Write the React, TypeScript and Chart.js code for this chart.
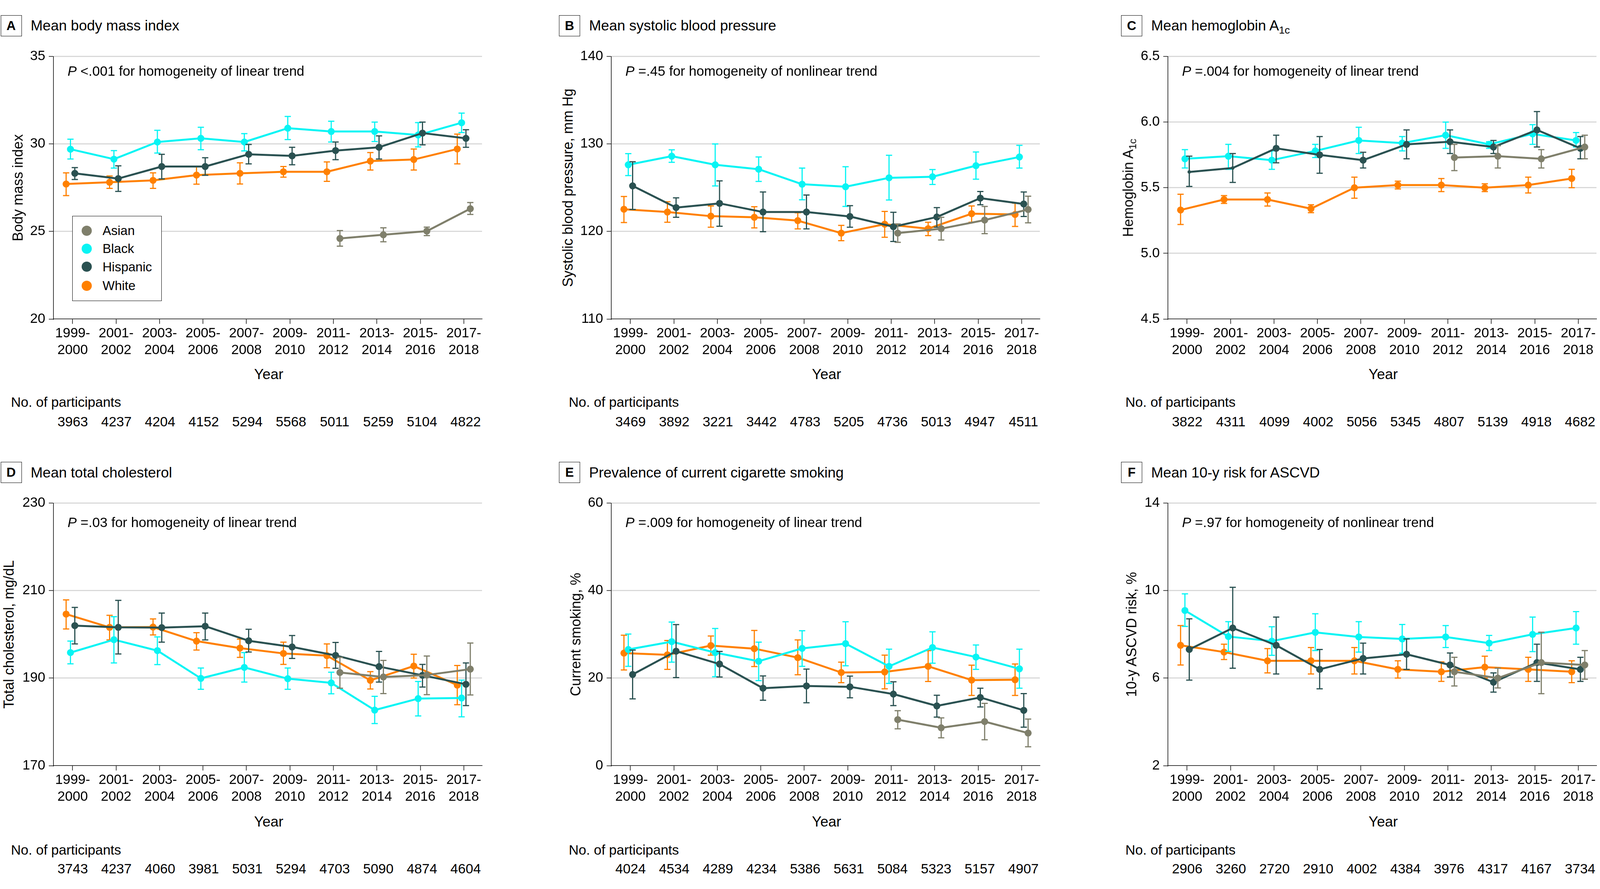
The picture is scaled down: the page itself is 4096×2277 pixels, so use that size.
import React, { useEffect, useRef } from "react";
import { Chart, registerables } from "chart.js";

Chart.register(...registerables);

const FONT = "'Liberation Sans', Arial, Helvetica, sans-serif";

// ---------- shared categories ----------
const yearLabels = [
  ["1999-", "2000"], ["2001-", "2002"], ["2003-", "2004"], ["2005-", "2006"], ["2007-", "2008"],
  ["2009-", "2010"], ["2011-", "2012"], ["2013-", "2014"], ["2015-", "2016"], ["2017-", "2018"],
];
const legendRaces = ["Asian", "Black", "Hispanic", "White"];
const _ = null;

// ---------- A: body mass index ----------
const bmiTicks = [20, 25, 30, 35];
const bmiAsian = [_, _, _, _, _, _, 24.6, 24.81, 25.02, 26.3];
const bmiAsianCI = [_, _, _, _, _, _, [24.16, 25.05], [24.41, 25.21], [24.76, 25.25], [25.97, 26.65]];
const bmiBlack = [29.7, 29.13, 30.11, 30.32, 30.11, 30.9, 30.71, 30.71, 30.51, 31.21];
const bmiBlackCI = [[29.14, 30.27], [28.62, 29.62], [29.48, 30.78], [29.67, 30.95], [29.6, 30.59], [30.25, 31.57], [30.11, 31.3], [30.14, 31.25], [29.83, 31.22], [30.65, 31.76]];
const bmiHispanic = [28.32, 28.02, 28.71, 28.71, 29.41, 29.32, 29.62, 29.81, 30.62, 30.32];
const bmiHispanicCI = [[27.97, 28.65], [27.29, 28.75], [28.0, 29.41], [28.21, 29.21], [28.86, 29.97], [28.81, 29.81], [29.1, 30.11], [29.14, 30.46], [29.95, 31.25], [29.81, 30.81]];
const bmiWhite = [27.71, 27.81, 27.92, 28.22, 28.32, 28.41, 28.41, 29.02, 29.11, 29.71];
const bmiWhiteCI = [[27.05, 28.35], [27.46, 28.17], [27.46, 28.35], [27.7, 28.7], [27.71, 28.92], [28.1, 28.71], [27.86, 28.97], [28.51, 29.51], [28.51, 29.71], [28.86, 30.56]];
const bmiN = [3963, 4237, 4204, 4152, 5294, 5568, 5011, 5259, 5104, 4822];

// ---------- B: systolic blood pressure ----------
const sbpTicks = [110, 120, 130, 140];
const sbpAsian = [_, _, _, _, _, _, 119.81, 120.32, 121.3, 122.51];
const sbpAsianCI = [_, _, _, _, _, _, [118.76, 120.86], [119.02, 121.62], [119.75, 122.86], [120.98, 124.03]];
const sbpBlack = [127.62, 128.6, 127.62, 127.11, 125.4, 125.11, 126.13, 126.25, 127.52, 128.51];
const sbpBlackCI = [[126.38, 128.89], [127.9, 129.33], [125.2, 130.0], [125.71, 128.51], [123.62, 127.24], [122.86, 127.4], [123.59, 128.7], [125.37, 127.08], [125.97, 129.08], [127.24, 129.84]];
const sbpHispanic = [125.21, 122.73, 123.21, 122.22, 122.22, 121.71, 120.54, 121.65, 123.81, 123.14];
const sbpHispanicCI = [[122.51, 127.97], [121.62, 123.84], [120.6, 125.78], [119.97, 124.51], [120.29, 124.16], [120.48, 122.95], [118.86, 122.19], [120.48, 122.73], [123.05, 124.57], [121.71, 124.51]];
const sbpWhite = [122.54, 122.22, 121.75, 121.62, 121.24, 119.81, 120.83, 120.32, 122.03, 121.94];
const sbpWhiteCI = [[121.02, 124.0], [121.05, 123.4], [120.48, 122.92], [120.41, 122.83], [120.29, 122.13], [118.95, 120.7], [119.33, 122.29], [119.52, 121.05], [121.05, 122.92], [120.57, 123.24]];
const sbpN = [3469, 3892, 3221, 3442, 4783, 5205, 4736, 5013, 4947, 4511];

// ---------- C: hemoglobin A1c ----------
const hbaTicks = [4.5, 5.0, 5.5, 6.0, 6.5];
const hbaAsian = [_, _, _, _, _, _, 5.73, 5.74, 5.72, 5.81];
const hbaAsianCI = [_, _, _, _, _, _, [5.63, 5.83], [5.65, 5.82], [5.65, 5.79], [5.72, 5.9]];
const hbaBlack = [5.72, 5.74, 5.71, 5.78, 5.86, 5.84, 5.9, 5.83, 5.91, 5.86];
const hbaBlackCI = [[5.65, 5.79], [5.64, 5.83], [5.64, 5.78], [5.73, 5.83], [5.76, 5.96], [5.78, 5.89], [5.8, 6.0], [5.8, 5.85], [5.83, 5.98], [5.81, 5.92]];
const hbaHispanic = [5.62, 5.65, 5.8, 5.75, 5.71, 5.83, 5.85, 5.81, 5.94, 5.8];
const hbaHispanicCI = [[5.51, 5.74], [5.54, 5.76], [5.69, 5.9], [5.61, 5.89], [5.65, 5.77], [5.72, 5.94], [5.76, 5.94], [5.76, 5.86], [5.81, 6.08], [5.72, 5.89]];
const hbaWhite = [5.33, 5.41, 5.41, 5.34, 5.5, 5.52, 5.52, 5.5, 5.52, 5.57];
const hbaWhiteCI = [[5.22, 5.45], [5.38, 5.44], [5.36, 5.46], [5.31, 5.37], [5.42, 5.58], [5.49, 5.55], [5.47, 5.57], [5.47, 5.53], [5.46, 5.58], [5.5, 5.64]];
const hbaN = [3822, 4311, 4099, 4002, 5056, 5345, 4807, 5139, 4918, 4682];

// ---------- D: total cholesterol ----------
const tcTicks = [170, 190, 210, 230];
const tcAsian = [_, _, _, _, _, _, 191.28, 190.26, 190.71, 192.05];
const tcAsianCI = [_, _, _, _, _, _, [187.69, 194.74], [186.47, 194.04], [186.22, 195.06], [186.15, 198.01]];
const tcBlack = [195.83, 198.78, 196.28, 189.94, 192.44, 189.87, 188.91, 182.69, 185.32, 185.45];
const tcBlackCI = [[193.27, 198.46], [193.46, 204.04], [193.08, 199.42], [187.44, 192.31], [189.1, 195.83], [187.44, 192.31], [186.41, 191.35], [179.62, 185.83], [181.35, 189.23], [181.15, 189.55]];
const tcHispanic = [201.99, 201.6, 201.54, 201.86, 198.53, 197.12, 195.19, 192.63, 190.64, 188.59];
const tcHispanicCI = [[197.82, 206.15], [195.51, 207.76], [198.21, 204.87], [198.72, 204.87], [195.96, 201.15], [194.49, 199.74], [192.24, 198.14], [189.1, 196.09], [187.95, 193.14], [183.72, 193.46]];
const tcWhite = [204.62, 201.6, 201.67, 198.46, 196.86, 195.64, 195.13, 189.49, 192.76, 188.4];
const tcWhiteCI = [[201.22, 207.88], [198.72, 204.36], [199.87, 203.53], [196.41, 200.38], [194.74, 198.91], [193.14, 198.21], [192.37, 197.82], [187.5, 191.47], [190.0, 195.45], [183.91, 192.88]];
const tcN = [3743, 4237, 4060, 3981, 5031, 5294, 4703, 5090, 4874, 4604];

// ---------- E: current smoking ----------
const smkTicks = [0, 20, 40, 60];
const smkAsian = [_, _, _, _, _, _, 10.51, 8.65, 10.06, 7.44];
const smkAsianCI = [_, _, _, _, _, _, [8.4, 12.56], [6.35, 10.9], [5.9, 14.23], [4.3, 10.64]];
const smkBlack = [26.54, 28.33, 25.83, 23.85, 26.79, 27.88, 22.69, 26.99, 24.81, 22.12];
const smkBlackCI = [[22.69, 30.06], [23.65, 32.82], [20.32, 31.35], [19.42, 28.21], [22.69, 30.83], [22.82, 32.88], [18.78, 26.6], [23.4, 30.58], [21.99, 27.56], [17.69, 26.6]];
const smkHispanic = [20.83, 26.15, 23.21, 17.69, 18.21, 18.01, 16.35, 13.65, 15.58, 12.63];
const smkHispanicCI = [[15.26, 26.41], [20.13, 32.24], [20.26, 26.09], [14.94, 20.51], [14.36, 22.05], [15.51, 20.45], [13.72, 19.17], [11.09, 16.09], [13.4, 17.69], [8.78, 16.47]];
const smkWhite = [25.71, 25.32, 27.44, 26.73, 24.68, 21.28, 21.41, 22.69, 19.55, 19.62];
const smkWhiteCI = [[21.86, 29.81], [21.99, 28.59], [25.26, 29.62], [22.63, 30.9], [20.77, 28.72], [18.97, 23.65], [17.56, 25.26], [19.23, 26.28], [16.03, 22.95], [16.03, 23.21]];
const smkN = [4024, 4534, 4289, 4234, 5386, 5631, 5084, 5323, 5157, 4907];

// ---------- F: 10-y ASCVD risk ----------
const cvdTicks = [2, 6, 10, 14];
const cvdAsian = [_, _, _, _, _, _, 6.29, 6.0, 6.71, 6.6];
const cvdAsianCI = [_, _, _, _, _, _, [5.64, 6.95], [5.55, 6.45], [5.29, 8.1], [5.95, 7.26]];
const cvdBlack = [9.09, 7.9, 7.69, 8.09, 7.88, 7.79, 7.88, 7.6, 8.0, 8.29];
const cvdBlackCI = [[8.36, 9.85], [7.22, 8.58], [7.04, 8.35], [7.26, 8.94], [7.19, 8.58], [7.14, 8.45], [7.4, 8.4], [7.26, 7.95], [7.21, 8.79], [7.55, 9.04]];
const cvdHispanic = [7.31, 8.29, 7.5, 6.4, 6.9, 7.09, 6.6, 5.81, 6.71, 6.4];
const cvdHispanicCI = [[5.91, 8.71], [6.45, 10.15], [6.19, 8.79], [5.51, 7.31], [6.19, 7.6], [6.4, 7.79], [6.05, 7.15], [5.36, 6.24], [5.85, 7.55], [5.85, 6.95]];
const cvdWhite = [7.5, 7.19, 6.79, 6.79, 6.79, 6.4, 6.29, 6.5, 6.4, 6.29];
const cvdWhiteCI = [[6.6, 8.4], [6.85, 7.55], [6.24, 7.35], [6.19, 7.4], [6.19, 7.4], [6.0, 6.79], [5.85, 6.74], [6.0, 7.0], [5.85, 6.95], [5.79, 6.79]];
const cvdN = [2906, 3260, 2720, 2910, 4002, 4384, 3976, 4317, 4167, 3734];

// ---------- styles ----------
const raceColors: Record<string, string> = {
  Asian: "#7f7f6b",
  Black: "#08f4f4",
  Hispanic: "#2a5151",
  White: "#ff8000",
};
const raceDodge: Record<string, number> = { Asian: 0.15, Black: -0.05, Hispanic: 0.05, White: -0.15 };
const drawOrder = ["Asian", "Hispanic", "Black", "White"]; // first is drawn on top

// ---------- layout (px) ----------
const X_MIN = -0.44;
const X_MAX = 9.42;
const PLOT_W = 1102;
const STEP = PLOT_W / (X_MAX - X_MIN);
const PLOT_LEFT = [137, 1565, 2990];
const PLOT_TOP = [144, 1288];
const PLOT_H = 673;
const Y_AXIS_W = 90;
const X_AXIS_H = 110;
const PAD_TOP = 30;
const PAD_RIGHT = 4;

type CI = number[] | null;
type Panel = {
  letter: string;
  col: number;
  row: number;
  title: React.ReactNode;
  pRest: string;
  yTitle: React.ReactNode;
  yTitleX: number;
  yTicks: number[];
  yDec: number;
  series: Record<string, [(number | null)[], CI[]]>;
  n: number[];
  legend?: boolean;
  small?: Record<string, number[]>;
};

const Sub = ({ children }: { children: React.ReactNode }) => (
  <span style={{ fontSize: "0.72em", position: "relative", top: "0.3em" }}>{children}</span>
);

const panels: Panel[] = [
  {
    letter: "A", col: 0, row: 0, title: "Mean body mass index",
    pRest: " <.001 for homogeneity of linear trend", yTitle: "Body mass index", yTitleX: 46,
    yTicks: bmiTicks, yDec: 0,
    series: { Asian: [bmiAsian, bmiAsianCI], Black: [bmiBlack, bmiBlackCI], Hispanic: [bmiHispanic, bmiHispanicCI], White: [bmiWhite, bmiWhiteCI] },
    n: bmiN, legend: true,
  },
  {
    letter: "B", col: 1, row: 0, title: "Mean systolic blood pressure",
    pRest: " =.45 for homogeneity of nonlinear trend", yTitle: "Systolic blood pressure, mm Hg", yTitleX: 1454,
    yTicks: sbpTicks, yDec: 0,
    series: { Asian: [sbpAsian, sbpAsianCI], Black: [sbpBlack, sbpBlackCI], Hispanic: [sbpHispanic, sbpHispanicCI], White: [sbpWhite, sbpWhiteCI] },
    n: sbpN,
  },
  {
    letter: "C", col: 2, row: 0, title: <>Mean hemoglobin A<Sub>1c</Sub></>,
    pRest: " =.004 for homogeneity of linear trend", yTitle: <>Hemoglobin A<Sub>1c</Sub></>, yTitleX: 2890,
    yTicks: hbaTicks, yDec: 1,
    series: { Asian: [hbaAsian, hbaAsianCI], Black: [hbaBlack, hbaBlackCI], Hispanic: [hbaHispanic, hbaHispanicCI], White: [hbaWhite, hbaWhiteCI] },
    n: hbaN, small: { Hispanic: [0, 1] },
  },
  {
    letter: "D", col: 0, row: 1, title: "Mean total cholesterol",
    pRest: " =.03 for homogeneity of linear trend", yTitle: "Total cholesterol, mg/dL", yTitleX: 23,
    yTicks: tcTicks, yDec: 0,
    series: { Asian: [tcAsian, tcAsianCI], Black: [tcBlack, tcBlackCI], Hispanic: [tcHispanic, tcHispanicCI], White: [tcWhite, tcWhiteCI] },
    n: tcN,
  },
  {
    letter: "E", col: 1, row: 1, title: "Prevalence of current cigarette smoking",
    pRest: " =.009 for homogeneity of linear trend", yTitle: "Current smoking, %", yTitleX: 1474,
    yTicks: smkTicks, yDec: 0,
    series: { Asian: [smkAsian, smkAsianCI], Black: [smkBlack, smkBlackCI], Hispanic: [smkHispanic, smkHispanicCI], White: [smkWhite, smkWhiteCI] },
    n: smkN,
  },
  {
    letter: "F", col: 2, row: 1, title: "Mean 10-y risk for ASCVD",
    pRest: " =.97 for homogeneity of nonlinear trend", yTitle: "10-y ASCVD risk, %", yTitleX: 2897,
    yTicks: cvdTicks, yDec: 0,
    series: { Asian: [cvdAsian, cvdAsianCI], Black: [cvdBlack, cvdBlackCI], Hispanic: [cvdHispanic, cvdHispanicCI], White: [cvdWhite, cvdWhiteCI] },
    n: cvdN,
  },
];

const errorBarPlugin = {
  id: "errorBars",
  beforeDatasetDraw(chart: any, args: any) {
    const ds = chart.data.datasets[args.index];
    const bars = ds.errorBars as { x: number; lo: number; hi: number }[];
    if (!bars) return;
    const xs = chart.scales.x;
    const ys = chart.scales.y;
    const ctx = chart.ctx as CanvasRenderingContext2D;
    ctx.save();
    ctx.strokeStyle = ds.borderColor;
    ctx.lineWidth = 3;
    ctx.lineCap = "butt";
    const half = 8;
    for (const b of bars) {
      const px = xs.getPixelForValue(b.x);
      const p1 = ys.getPixelForValue(b.lo);
      const p2 = ys.getPixelForValue(b.hi);
      ctx.beginPath();
      ctx.moveTo(px, p1);
      ctx.lineTo(px, p2);
      ctx.moveTo(px - half, p1);
      ctx.lineTo(px + half, p1);
      ctx.moveTo(px - half, p2);
      ctx.lineTo(px + half, p2);
      ctx.stroke();
    }
    ctx.restore();
  },
};

function PanelChart({ panel }: { panel: Panel }) {
  const ref = useRef<HTMLCanvasElement | null>(null);
  const cl = PLOT_LEFT[panel.col] - Y_AXIS_W;
  const ct = PLOT_TOP[panel.row] - PAD_TOP;
  const cw = Y_AXIS_W + PLOT_W + PAD_RIGHT;
  const ch = PAD_TOP + PLOT_H + X_AXIS_H;

  useEffect(() => {
    const yMin = panel.yTicks[0];
    const yMax = panel.yTicks[panel.yTicks.length - 1];
    const datasets = drawOrder
      .filter((r) => panel.series[r])
      .map((r) => {
        const [vals, ci] = panel.series[r];
        const pts: { x: number; y: number }[] = [];
        const radii: number[] = [];
        const smallIdx = (panel.small && panel.small[r]) || [];
        vals.forEach((v, i) => {
          if (v != null) {
            pts.push({ x: i + raceDodge[r], y: v });
            radii.push(smallIdx.includes(i) ? 4.5 : 9);
          }
        });
        const bars: { x: number; lo: number; hi: number }[] = [];
        ci.forEach((c, i) => {
          if (c) bars.push({ x: i + raceDodge[r], lo: c[0], hi: c[1] });
        });
        return {
          label: r,
          data: pts,
          errorBars: bars,
          borderColor: raceColors[r],
          backgroundColor: raceColors[r],
          pointBackgroundColor: raceColors[r],
          pointBorderColor: raceColors[r],
          pointBorderWidth: 0,
          borderWidth: 5,
          pointRadius: radii,
          pointHoverRadius: radii,
          tension: 0,
          borderJoinStyle: "round",
        } as any;
      });

    const tickFont = { family: FONT, size: 35, lineHeight: 1.23 };
    const chart = new Chart(ref.current as HTMLCanvasElement, {
      type: "line",
      data: { datasets },
      options: {
        responsive: false,
        maintainAspectRatio: false,
        animation: false,
        devicePixelRatio: 1,
        events: [],
        layout: { padding: { top: PAD_TOP, right: PAD_RIGHT, left: 0, bottom: 0 } },
        plugins: { legend: { display: false }, tooltip: { enabled: false } },
        scales: {
          x: {
            type: "linear",
            min: X_MIN,
            max: X_MAX,
            afterBuildTicks: (ax: any) => {
              ax.ticks = yearLabels.map((_l, i) => ({ value: i }));
            },
            afterFit: (s: any) => {
              s.height = X_AXIS_H;
            },
            ticks: {
              autoSkip: false,
              maxRotation: 0,
              minRotation: 0,
              padding: 3,
              color: "#000",
              font: tickFont,
              callback: (v: any) => yearLabels[Math.round(Number(v))] as any,
            },
            grid: {
              drawOnChartArea: false,
              drawTicks: true,
              tickLength: 12.5,
              tickColor: "#000",
              tickWidth: 1.5,
            },
            border: { display: true, color: "#000", width: 1.5 },
          },
          y: {
            type: "linear",
            min: yMin,
            max: yMax,
            afterBuildTicks: (ax: any) => {
              ax.ticks = panel.yTicks.map((v) => ({ value: v }));
            },
            afterFit: (s: any) => {
              s.width = Y_AXIS_W;
            },
            ticks: {
              padding: 9,
              color: "#000",
              font: tickFont,
              callback: (v: any) => Number(v).toFixed(panel.yDec),
            },
            grid: {
              drawOnChartArea: true,
              drawTicks: true,
              tickLength: 12,
              tickColor: "#000",
              tickWidth: 1.5,
              lineWidth: 3,
              color: (c: any) => (c.tick && c.tick.value === yMin ? "rgba(0,0,0,0)" : "#d9d9d9"),
            },
            border: { display: true, color: "#000", width: 1.5 },
          },
        },
      } as any,
      plugins: [errorBarPlugin],
    });
    return () => chart.destroy();
  }, []);

  return (
    <canvas
      ref={ref}
      width={cw}
      height={ch}
      style={{ position: "absolute", left: cl, top: ct, width: cw, height: ch }}
    />
  );
}

// text whose cap-height centre sits at y
function T({
  x, y, size, children, align = "left", bold = false, style = {},
}: {
  x: number; y: number; size: number; children: React.ReactNode; align?: "left" | "center"; bold?: boolean; style?: React.CSSProperties;
}) {
  return (
    <div
      style={{
        position: "absolute",
        left: x,
        top: y - 0.4885 * size,
        fontFamily: FONT,
        fontSize: size,
        lineHeight: `${size}px`,
        fontWeight: bold ? 700 : 400,
        whiteSpace: "pre",
        color: "#000",
        transform: align === "center" ? "translateX(-50%)" : undefined,
        ...style,
      }}
    >
      {children}
    </div>
  );
}

const ROW_SHIFT = 1144.5;
const TITLE_Y = [65.5, 65.5 + ROW_SHIFT];
const P_Y = [181, 1337];
const YEAR_Y = [958, 2104];
const NLABEL_Y = [1029, 2176];
const NUM_Y = [1079, 2224];
const BOX_TOP = [38.5, 38.5 + ROW_SHIFT];
const BOX_LEFT = [1.5, 1431, 2870];

function PanelText({ panel }: { panel: Panel }) {
  const pl = PLOT_LEFT[panel.col];
  const firstTick = pl - X_MIN * STEP;
  const r = panel.row;
  const boxLeft = BOX_LEFT[panel.col];
  return (
    <>
      <div
        style={{
          position: "absolute",
          left: boxLeft,
          top: BOX_TOP[r],
          width: 54,
          height: 54,
          boxSizing: "border-box",
          border: "1.5px solid #000",
          display: "flex",
          alignItems: "center",
          justifyContent: "center",
          fontFamily: FONT,
          fontWeight: 700,
          fontSize: 33,
          color: "#000",
        }}
      >
        {panel.letter}
      </div>
      <T x={boxLeft + 77} y={TITLE_Y[r]} size={37}>{panel.title}</T>
      <T x={pl + 36} y={P_Y[r]} size={35}>
        <i>P</i>
        {panel.pRest}
      </T>
      <div
        style={{
          position: "absolute",
          left: panel.yTitleX,
          top: PLOT_TOP[r] + PLOT_H / 2,
          transform: "translate(-50%, -50%) rotate(-90deg)",
          fontFamily: FONT,
          fontSize: 36,
          lineHeight: "36px",
          whiteSpace: "pre",
          color: "#000",
        }}
      >
        {panel.yTitle}
      </div>
      <T x={pl + PLOT_W / 2} y={YEAR_Y[r]} size={37} align="center">Year</T>
      <T x={pl - 109} y={NLABEL_Y[r]} size={35}>No. of participants</T>
      {panel.n.map((v, i) => (
        <T key={i} x={firstTick + i * STEP} y={NUM_Y[r]} size={35} align="center">
          {String(v)}
        </T>
      ))}
      {panel.legend && (
        <div
          style={{
            position: "absolute",
            left: 185,
            top: 553,
            width: 229,
            height: 218,
            boxSizing: "border-box",
            border: "1.5px solid #000",
            background: "#fff",
          }}
        >
          {legendRaces.map((race, i) => {
            const cy = [591, 637, 683.5, 732][i] - 553;
            return (
              <React.Fragment key={race}>
                <div
                  style={{
                    position: "absolute",
                    left: 222.5 - 185 - 13 - 1.5,
                    top: cy - 13 - 1.5,
                    width: 26,
                    height: 26,
                    borderRadius: "50%",
                    background: raceColors[race],
                  }}
                />
                <T x={263 - 185 - 1.5} y={cy - 1.5} size={33}>{race}</T>
              </React.Fragment>
            );
          })}
        </div>
      )}
    </>
  );
}

export default function App() {
  return (
    <div
      style={{
        position: "absolute",
        left: 0,
        top: 0,
        width: 4096,
        height: 2277,
        overflow: "hidden",
        background: "#fff",
      }}
    >
      {panels.map((p) => (
        <PanelChart key={p.letter} panel={p} />
      ))}
      {panels.map((p) => (
        <PanelText key={"t" + p.letter} panel={p} />
      ))}
    </div>
  );
}
